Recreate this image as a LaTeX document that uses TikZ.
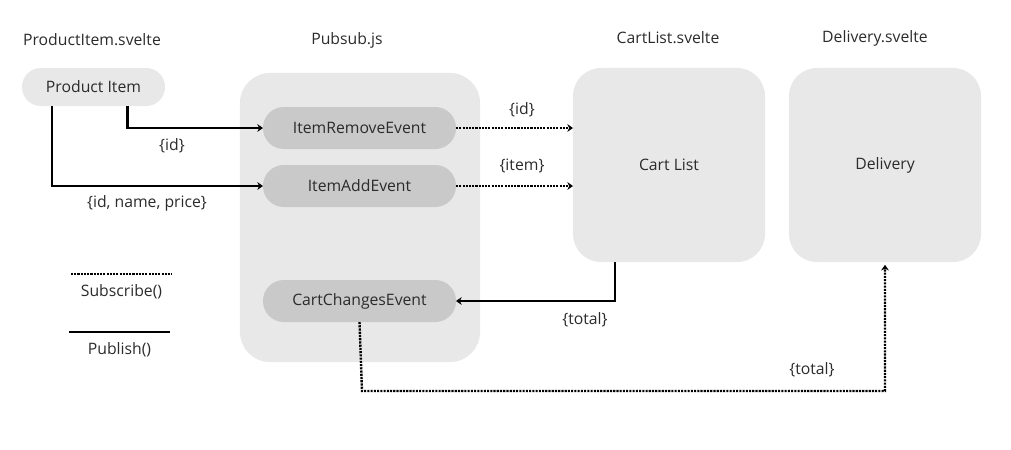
\documentclass[tikz,border=0pt]{standalone}
\usepackage{fontspec}
\setmainfont{Open Sans}
\usetikzlibrary{arrows.meta,positioning,calc}
\definecolor{boxgray}{HTML}{E8E8E8}
\definecolor{evgray}{HTML}{C9C9C9}
\definecolor{txtgray}{HTML}{2B2B2B}
\tikzset{
  >={Stealth[length=4pt,width=5.5pt]},
  title/.style={font=\fontsize{11.2}{13}\selectfont,text=txtgray},
  comp/.style={fill=boxgray,rounded corners=0.7cm,minimum width=4.8cm,minimum height=4.85cm,inner sep=0pt,outer sep=0pt,font=\fontsize{11.2}{13}\selectfont,text=txtgray},
  pill/.style={fill=evgray,rounded corners=0.52cm,minimum width=4.825cm,minimum height=1.05cm,inner sep=0pt,outer sep=0pt,font=\fontsize{11.2}{13}\selectfont,text=txtgray},
  lbl/.style={font=\fontsize{11.2}{13}\selectfont,text=txtgray,inner sep=1pt},
  pub/.style={line width=1.5pt,->},
  sub/.style={line width=1.7pt,dash pattern=on 1.5pt off 0.8pt,->}
}
\begin{document}
\begin{tikzpicture}[x=0.025cm,y=-0.025cm]
\useasboundingbox (0,0) rectangle (1011,449);
% titles
\node[title](t-item) at (92,40){ProductItem.svelte};
\node[title](t-pubsub) at (347,40){Pubsub.js};
\node[title](t-cart) at (668,38){CartList.svelte};
\node[title](t-deliv) at (875,38){Delivery.svelte};
% components
\node[pill,fill=boxgray,minimum width=3.575cm,minimum height=0.95cm,rounded corners=0.47cm](item) at (93.5,87){Product Item};
\node[comp,minimum width=6cm,minimum height=7.225cm,rounded corners=0.75cm](pubsub) at (360,217.5){};
\node[pill](ire) at (359.5,128){ItemRemoveEvent};
\node[pill](iae) at (359.5,186){ItemAddEvent};
\node[pill](cce) at (359.5,301){CartChangesEvent};
\node[comp](cart) at (669,165){Cart List};
\node[comp](deliv) at (885,165){Delivery};
% publish
\draw[pub]([xshift=0.85cm]item.south) |- (ire.west);
\draw[pub]([xshift=-1.04cm]item.south) |- (iae.west);
\draw[pub]([xshift=-1.35cm]cart.south) |- (cce.east);
% subscribe
\draw[sub](ire.east) -- (ire.east -| cart.west);
\draw[sub](iae.east) -- (iae.east -| cart.west);
\coordinate(turn) at (362,391);
\draw[sub,shorten >=2pt](cce.south) -- (turn) -| (deliv.south);
% data labels
\node[lbl](l-id) at (172,146){\{id\}};
\node[lbl](l-full) at (147,203){\{id, name, price\}};
\node[lbl](l-id2) at (522,110){\{id\}};
\node[lbl](l-item) at (522,166){\{item\}};
\node[lbl](l-total) at (585,320){\{total\}};
\node[lbl](l-total2) at (812,370){\{total\}};
% legend
\coordinate(s1) at (71,274);\coordinate(s2) at (172,274);
\draw[sub,-](s1) -- (s2);
\node[lbl,below=0.22cm of $(s1)!0.5!(s2)$](subscr){Subscribe()};
\coordinate(p1) at (69,332);\coordinate(p2) at (170,332);
\draw[pub,-](p1) -- (p2);
\node[lbl,below=0.22cm of $(p1)!0.5!(p2)$](publ){Publish()};
\end{tikzpicture}
\end{document}
